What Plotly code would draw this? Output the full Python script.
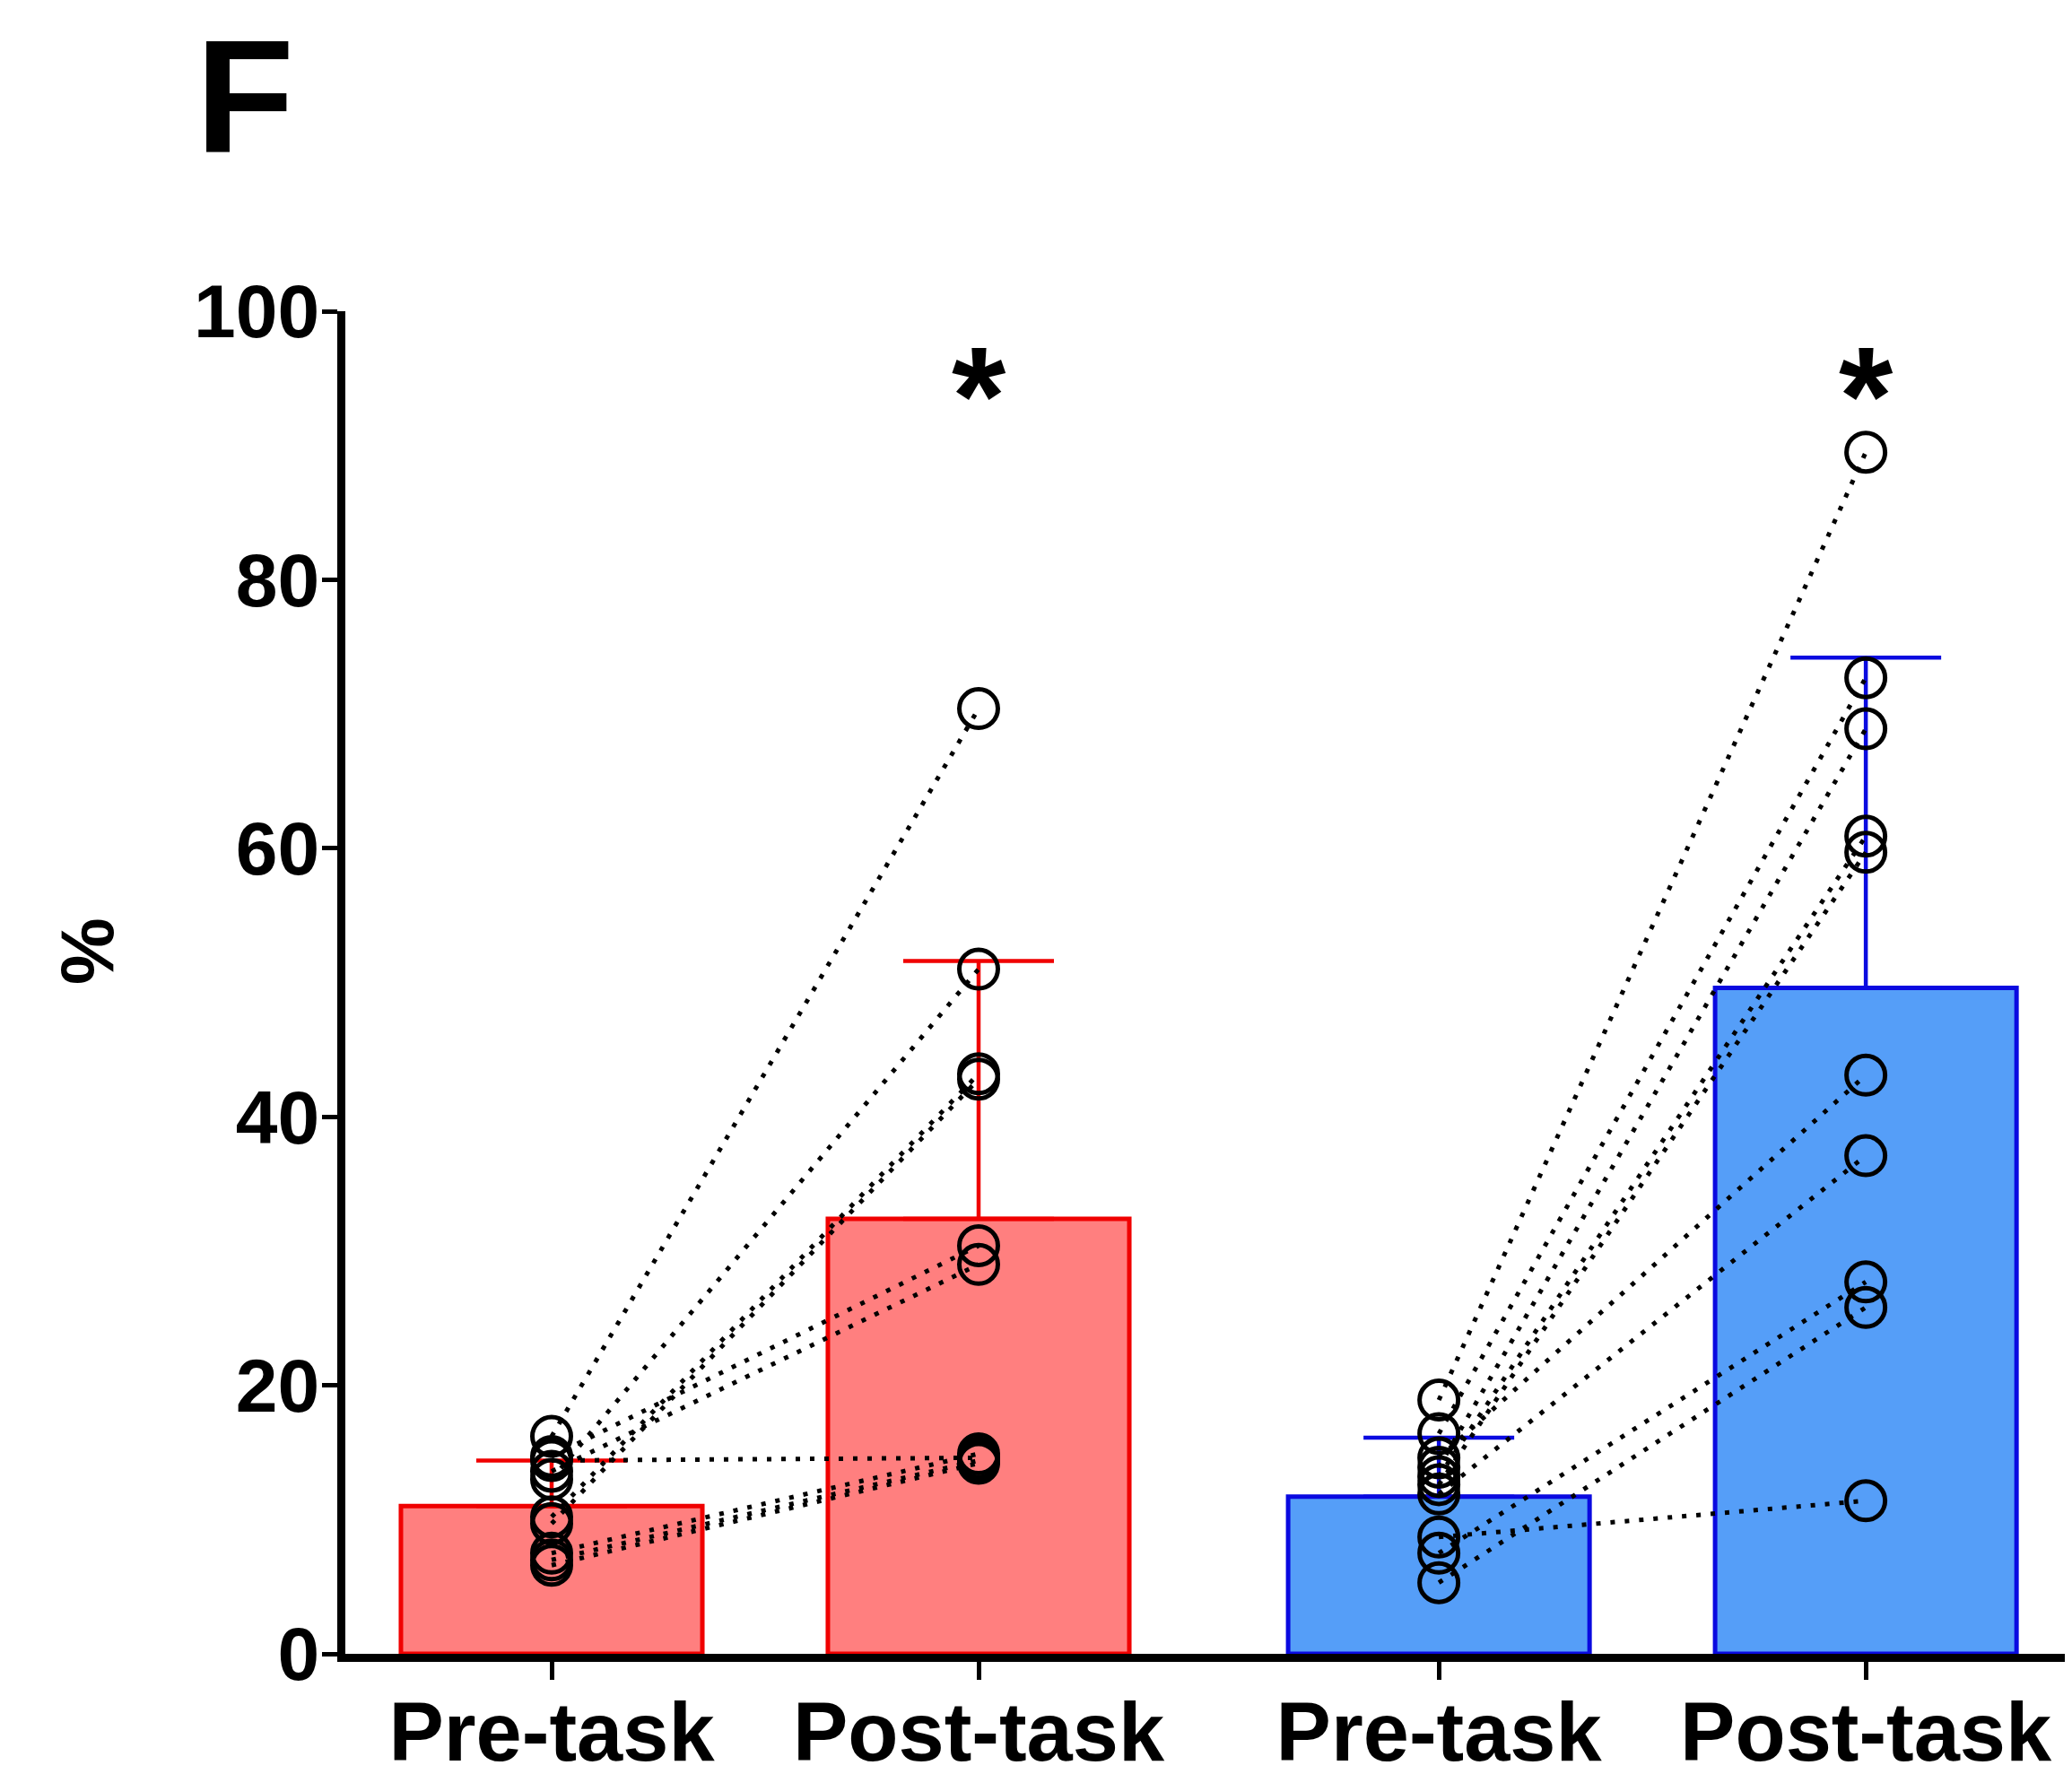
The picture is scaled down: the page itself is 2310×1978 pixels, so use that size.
import plotly.graph_objects as go

# ---------------- data ----------------
groups = ["Red", "Blue"]
conditions = ["Pre-task", "Post-task"]
tick_labels = ["Pre-task", "Post-task", "Pre-task", "Post-task"]

bar_means = [11.0, 32.4, 11.7, 49.6]
bar_sd = [3.4, 19.2, 4.4, 24.6]

red_pre = [16.2, 13.0, 10.2, 9.7, 14.7, 13.6, 14.4, 7.5, 7.0, 6.6]
red_post = [70.4, 51.0, 43.2, 42.8, 30.4, 29.0, 14.6, 14.9, 14.4, 14.2]

blue_pre = [18.9, 16.4, 13.9, 13.2, 12.6, 14.6, 11.9, 7.5, 5.3, 8.7]
blue_post = [89.5, 72.7, 68.9, 60.9, 59.7, 43.1, 37.1, 27.7, 25.8, 11.4]

significance = ["", "*", "", "*"]
y_ticks = [0, 20, 40, 60, 80, 100]

# ---------------- styles / layout ----------------
fill_colors = ["#FF7F7F", "#FF7F7F", "#559EF8", "#559EF8"]
edge_colors = ["#F00000", "#F00000", "#0A0AE0", "#0A0AE0"]
FONT = "Liberation Sans, Arial, Helvetica, sans-serif"

W, H = 2310, 1978
ML, MR, MT, MB = 377, 0, 339, 142
PW, PH = W - ML - MR, H - MT - MB


def px_x(px):
    return (px - ML) / PW


def px_y(py):
    return (H - MB - py) / PH


group_gap = 0.078
positions = [g * (len(conditions) + group_gap) + c
             for g in range(len(groups)) for c in range(len(conditions))]

fig = go.Figure()

# bars with upward SD error bars
for i in range(4):
    fig.add_trace(go.Bar(
        x=[positions[i]], y=[bar_means[i]], width=0.706,
        marker=dict(color=fill_colors[i], line=dict(color=edge_colors[i], width=5)),
        error_y=dict(type="data", array=[bar_sd[i]], arrayminus=[0], symmetric=False,
                     color=edge_colors[i], thickness=4.5, width=84),
        showlegend=False, hoverinfo="skip",
    ))

# paired dotted lines
pairs = [(red_pre, red_post, positions[0], positions[1]),
         (blue_pre, blue_post, positions[2], positions[3])]
for pre, post, xa, xb in pairs:
    xs, ys = [], []
    for a, b in zip(pre, post):
        xs += [xa, xb, None]
        ys += [a, b, None]
    fig.add_trace(go.Scatter(
        x=xs, y=ys, mode="lines",
        line=dict(color="black", width=5, dash="5px,11px"),
        showlegend=False, hoverinfo="skip",
    ))

# open circles
for pre, post, xa, xb in pairs:
    fig.add_trace(go.Scatter(
        x=[xa] * len(pre) + [xb] * len(post), y=pre + post, mode="markers",
        marker=dict(symbol="circle-open", size=43, color="black", line=dict(width=5)),
        showlegend=False, hoverinfo="skip",
    ))

annotations = []
for i, s in enumerate(significance):
    if s:
        annotations.append(dict(x=positions[i], y=93.7, xref="x", yref="y", text=s,
                                showarrow=False, xanchor="center", yanchor="middle",
                                font=dict(family=FONT, size=155, color="black", weight="bold")))

annotations.append(dict(x=px_x(265), y=px_y(99), xref="paper", yref="paper", text="F",
                        showarrow=False, xanchor="center", yanchor="middle",
                        font=dict(family=FONT, size=180, color="black", weight="bold")))
annotations.append(dict(x=px_x(89), y=px_y(1053), xref="paper", yref="paper", text="%",
                        showarrow=False, xanchor="center", yanchor="middle", textangle=-90,
                        font=dict(family=FONT, size=84, color="black", weight="bold")))

x_left = -(607 - ML) / 476
x_right = x_left + PW / 476

fig.update_layout(
    width=W, height=H,
    margin=dict(l=ML, r=MR, t=MT, b=MB, autoexpand=False),
    paper_bgcolor="white", plot_bgcolor="white",
    barmode="overlay",
    annotations=annotations,
    xaxis=dict(range=[x_left, x_right], tickvals=positions, ticktext=tick_labels,
               tickangle=0, ticklabelstandoff=-20,
               showgrid=False, zeroline=False, showline=True, linecolor="black", linewidth=9,
               ticks="outside", ticklen=20, tickwidth=5, tickcolor="black",
               tickfont=dict(family=FONT, size=92, color="black", weight="bold"),
               automargin=False, fixedrange=True),
    yaxis=dict(range=[0, 100], tickvals=y_ticks,
               showgrid=False, zeroline=False, showline=True, linecolor="black", linewidth=9,
               ticks="outside", ticklen=17, tickwidth=5, tickcolor="black",
               ticklabelstandoff=-14,
               tickfont=dict(family=FONT, size=84, color="black", weight="bold"),
               automargin=False, fixedrange=True),
)

fig.write_html("out.html")
